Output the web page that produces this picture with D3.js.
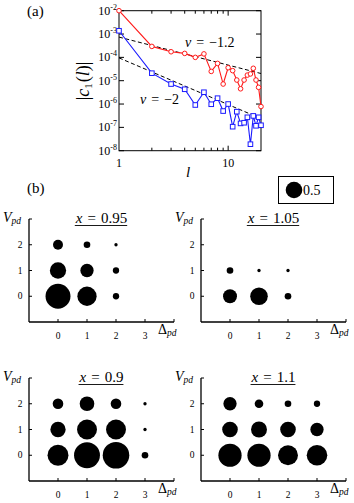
<!DOCTYPE html>
<html><head><meta charset="utf-8">
<script src="https://cdn.jsdelivr.net/npm/d3@7"></script>
<style>
body{margin:0;background:#fff}
svg{display:block}
text{font-family:"Liberation Serif","DejaVu Serif",serif;fill:#000}
</style>
</head><body><svg id="c" width="354" height="503"></svg>
<script>
// ---------- data: panel (a) ----------
const lValues = [1,2,3,4,5,6,7,8,9,10,11,12,13,14,15,16,17,18,19,20];
const redValues = [1.0e-2,2.95e-4,1.74e-4,1.48e-4,1.0e-4,1.41e-4,2.5e-5,5.5e-5,7.2e-6,3.6e-5,2.7e-5,1.07e-5,4.5e-6,1.07e-5,1.74e-5,1.95e-5,3.4e-5,1.07e-5,5.2e-6,7.8e-7];
const blueValues = [1.38e-3,2.1e-5,7.2e-6,4.3e-6,9.1e-7,3.2e-6,9.8e-7,1.78e-6,5.0e-7,1.0e-6,1.07e-7,4.7e-7,1.48e-7,1.58e-7,2.7e-7,1.9e-8,3.1e-7,1.17e-7,2.7e-7,1.23e-7];
const fitAmps = [7.4e-4, 9.5e-5];
const fitNus = [-1.2, -2];
const fitLabels = ["−1.2", "−2"];
const yTickExps = [-2,-3,-4,-5,-6,-7,-8];
const xTickLabels = [1, 10];
const xMinorTicks = [2,3,4,5,6,7,8,9];

// ---------- data: panel (b) ----------
const deltaTicks = [0,1,2,3];
const vTicks = [0,1,2];
const panelTitles = ["0.95","1.05","0.9","1.1"];
// rows: V_pd = 0,1,2 ; columns: Delta_pd = 0,1,2,3
const weightsX095 = [[0.75,0.58,0.19,0],[0.49,0.40,0.19,0],[0.30,0.20,0.10,0]];
const weightsX105 = [[0.42,0.53,0.20,0],[0.20,0.10,0.10,0],[0,0,0,0]];
const weightsX090 = [[0.63,0.78,0.80,0.20],[0.46,0.60,0.60,0.10],[0.32,0.44,0.32,0.10]];
const weightsX110 = [[0.70,0.70,0.60,0.62],[0.47,0.48,0.47,0.40],[0.40,0.26,0.20,0.19]];
const legendValue = 0.5;

const svg = d3.select("#c");

// ================= panel (a) =================
const x = d3.scaleLog().domain([1,20]).range([119,261]);
const y = d3.scaleLog().domain([1e-8,1e-2]).range([150.7,10.7]);
const ga = svg.append("g");

ga.append("rect").attr("x",x(1)).attr("y",y(1e-2)).attr("width",x(20)-x(1)).attr("height",y(1e-8)-y(1e-2))
  .attr("fill","none").attr("stroke","#000").attr("stroke-width",1);

yTickExps.forEach(e=>{
  const v = Math.pow(10,e), yy = y(v);
  ga.append("line").attr("x1",x(1)).attr("x2",x(1)+5).attr("y1",yy).attr("y2",yy).attr("stroke","#000");
  ga.append("line").attr("x1",x(20)).attr("x2",x(20)-5).attr("y1",yy).attr("y2",yy).attr("stroke","#000");
  const t = ga.append("text").attr("x",x(1)-2).attr("y",yy+4).attr("text-anchor","end").attr("font-size",12);
  t.append("tspan").text("10");
  t.append("tspan").attr("font-size",8).attr("dy",-5).text(String(e));
});
xMinorTicks.forEach(v=>{
  [[y(1e-8),-3],[y(1e-2),3]].forEach(([yy,d])=>{
    ga.append("line").attr("x1",x(v)).attr("x2",x(v)).attr("y1",yy).attr("y2",yy+d).attr("stroke","#000");
  });
});
[10].forEach(v=>{
  [[y(1e-8),-5],[y(1e-2),5]].forEach(([yy,d])=>{
    ga.append("line").attr("x1",x(v)).attr("x2",x(v)).attr("y1",yy).attr("y2",yy+d).attr("stroke","#000");
  });
});
xTickLabels.forEach(v=>{
  ga.append("text").attr("x",x(v)).attr("y",167).attr("text-anchor","middle").attr("font-size",12).text(v);
});
ga.append("text").attr("x",188).attr("y",177).attr("text-anchor","middle").attr("font-size",15)
  .attr("font-style","italic").text("l");

const yl = ga.append("text").attr("transform","translate(89,81) rotate(-90)").attr("text-anchor","middle").attr("font-size",18);
yl.append("tspan").text("|");
yl.append("tspan").attr("font-style","italic").text("c");
yl.append("tspan").attr("font-size",11).attr("dy",3).text("1");
yl.append("tspan").attr("dy",-3).attr("dx",1).text("(");
yl.append("tspan").attr("font-style","italic").text("l");
yl.append("tspan").text(")|");

ga.append("text").attr("x",27).attr("y",16).attr("font-size",15).text("(a)");

const lineGen = d3.line().x(d=>x(d[0])).y(d=>y(d[1]));
fitAmps.forEach((a,i)=>{
  const pts = [1,20].map(l=>[l, a*Math.pow(l,fitNus[i])]);
  ga.append("path").attr("d",lineGen(pts)).attr("fill","none").attr("stroke","#000")
    .attr("stroke-width",1).attr("stroke-dasharray","4,2.5");
});

const series = [{v:redValues,c:"#ff1a1a",m:"circle"},{v:blueValues,c:"#1a1aff",m:"square"}];
series.forEach(s=>{
  const pts = lValues.map((l,i)=>[l,s.v[i]]);
  ga.append("path").attr("d",lineGen(pts)).attr("fill","none").attr("stroke",s.c).attr("stroke-width",1.1);
  pts.forEach(p=>{
    if(s.m==="circle"){
      ga.append("circle").attr("cx",x(p[0])).attr("cy",y(p[1])).attr("r",2.3)
        .attr("fill","#fff").attr("stroke",s.c).attr("stroke-width",1);
    } else {
      ga.append("rect").attr("x",x(p[0])-2.3).attr("y",y(p[1])-2.3).attr("width",4.6).attr("height",4.6)
        .attr("fill","#fff").attr("stroke",s.c).attr("stroke-width",1);
    }
  });
});

function nuLabel(xx,yy,txt){
  const t = ga.append("text").attr("x",xx).attr("y",yy).attr("font-size",14);
  t.append("tspan").attr("font-style","italic").text("ν");
  t.append("tspan").attr("dx",5).text("=");
  t.append("tspan").attr("dx",5).text(txt);
}
nuLabel(185,47,fitLabels[0]);
nuLabel(140,104,fitLabels[1]);

// ================= panel (b) =================
const gb = svg.append("g");
gb.append("text").attr("x",27).attr("y",193).attr("font-size",15).text("(b)");

const rScale = d3.scaleLinear().domain([0,1]).range([0,16.6]);

gb.append("rect").attr("x",278.5).attr("y",176.5).attr("width",55).attr("height",27)
  .attr("fill","none").attr("stroke","#000").attr("stroke-width",1);
gb.append("circle").attr("cx",294).attr("cy",190).attr("r",rScale(legendValue)).attr("fill","#000");
gb.append("text").attr("x",303).attr("y",195).attr("font-size",14).text(legendValue);

const panels = [
  {w:weightsX095, left:29, top:219},
  {w:weightsX105, left:201, top:219},
  {w:weightsX090, left:29, top:378},
  {w:weightsX110, left:201, top:378}
];
panels.forEach((p,pi)=>{
  const px = d3.scaleLinear().domain([-1,4]).range([p.left,p.left+145]);
  const py = d3.scaleLinear().domain([-1,3]).range([p.top+103,p.top]);
  const g = gb.append("g");
  g.append("line").attr("x1",px(-1)).attr("x2",px(-1)).attr("y1",py(3)).attr("y2",py(-1)).attr("stroke","#000").attr("stroke-width",1.3);
  g.append("line").attr("x1",px(-1)).attr("x2",px(4)).attr("y1",py(-1)).attr("y2",py(-1)).attr("stroke","#000").attr("stroke-width",1.3);
  [0,1,2,3].forEach(v=>{
    g.append("line").attr("x1",px(-1)).attr("x2",px(-1)+3).attr("y1",py(v)).attr("y2",py(v)).attr("stroke","#000");
  });
  [0,1,2,3,4].forEach(v=>{
    g.append("line").attr("x1",px(v)).attr("x2",px(v)).attr("y1",py(-1)).attr("y2",py(-1)-3).attr("stroke","#000");
  });
  vTicks.forEach(v=>{
    g.append("text").attr("x",px(-1)-9).attr("y",py(v)+3).attr("text-anchor","middle").attr("font-size",9.5).text(v);
  });
  deltaTicks.forEach(v=>{
    g.append("text").attr("x",px(v)).attr("y",py(-1)+17).attr("text-anchor","middle").attr("font-size",9.5).text(v);
  });
  const dl = g.append("text").attr("x",px(4)-16).attr("y",py(-1)+12).attr("font-size",14);
  dl.append("tspan").text("Δ");
  dl.append("tspan").attr("font-size",9.5).attr("font-style","italic").attr("dy",2).text("pd");
  const vl = g.append("text").attr("x",px(-1)-26).attr("y",py(3)+3).attr("font-size",14);
  vl.append("tspan").attr("font-style","italic").text("V");
  vl.append("tspan").attr("font-size",9.5).attr("font-style","italic").attr("dy",2).text("pd");
  const tt = g.append("text").attr("x",px(1.5)).attr("y",py(3)+4).attr("text-anchor","middle").attr("font-size",15);
  tt.append("tspan").attr("font-style","italic").text("x");
  tt.append("tspan").attr("dx",5).text("=");
  tt.append("tspan").attr("dx",5).text(panelTitles[pi]);
  const bb = tt.node().getBBox();
  g.append("line").attr("x1",bb.x).attr("x2",bb.x+bb.width).attr("y1",py(3)+6.5).attr("y2",py(3)+6.5)
    .attr("stroke","#000").attr("stroke-width",0.9);
  p.w.forEach((row,vi)=>{
    row.forEach((val,di)=>{
      if(val>0){
        g.append("circle").attr("cx",px(di)).attr("cy",py(vi)).attr("r",rScale(val)).attr("fill","#000");
      }
    });
  });
});
</script>
</body></html>
